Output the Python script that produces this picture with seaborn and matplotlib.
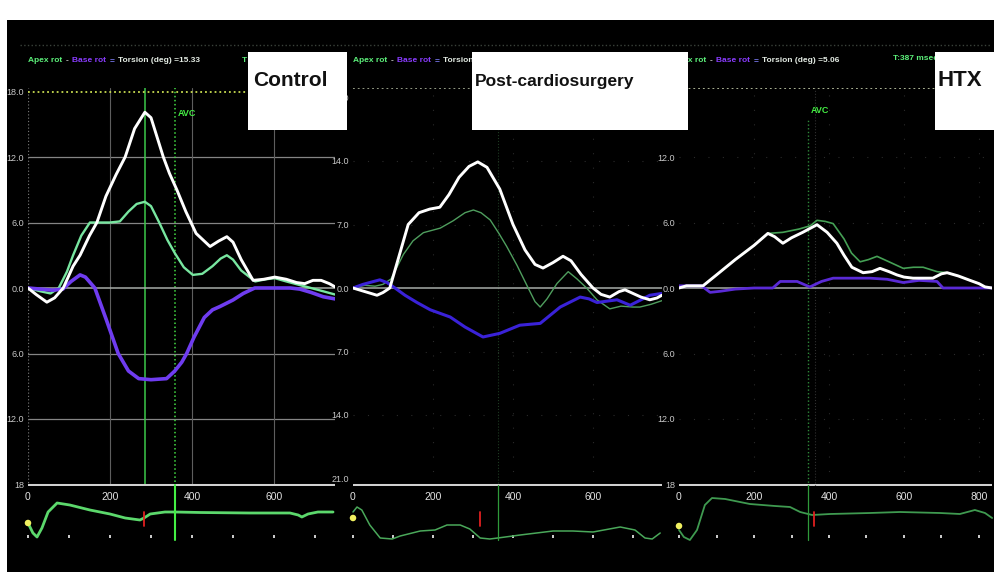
import matplotlib.pyplot as plt
from matplotlib.lines import Line2D
from matplotlib.patches import Rectangle
import seaborn as sns
import numpy as np

sns.set_theme(style="dark", rc={"axes.facecolor": "black", "figure.facecolor": "white"})
FONT = ['Liberation Sans Narrow', 'DejaVu Sans Condensed', 'Liberation Sans', 'DejaVu Sans']
plt.rcParams['font.family'] = FONT

# ---------------- data (time in msec, rotation in deg) ----------------
ctrl_ms = [0, 20, 46, 65, 86, 110, 127, 150, 168, 190, 215, 237, 260, 285, 300, 330, 345, 363,
           385, 410, 444, 465, 485, 500, 520, 549, 575, 602, 630, 655, 675, 695, 715, 735, 749]
ctrl_torsion = [0.0, -0.6, -1.3, -0.9, 0.0, 2.0, 3.0, 4.8, 6.0, 8.4, 10.4, 12.0, 14.6, 16.1, 15.6,
                12.0, 10.5, 9.0, 7.0, 5.0, 3.8, 4.3, 4.7, 4.2, 2.6, 0.7, 0.8, 1.0, 0.8, 0.5, 0.4,
                0.7, 0.7, 0.4, 0.1]
ctrl_apex_ms = [0, 30, 55, 75, 95, 110, 130, 151, 175, 200, 224, 245, 265, 285, 300, 320, 340,
                358, 380, 402, 425, 450, 470, 485, 500, 520, 554, 580, 602, 630, 660, 690, 720, 749]
ctrl_apex = [0.0, -0.3, -0.5, 0.0, 1.5, 3.0, 4.8, 6.0, 6.0, 6.0, 6.1, 7.0, 7.7, 7.9, 7.5, 6.0,
             4.4, 3.2, 1.9, 1.2, 1.3, 2.0, 2.7, 3.0, 2.6, 1.6, 0.6, 0.8, 0.9, 0.6, 0.3, 0.0,
             -0.3, -0.6]
ctrl_base_ms = [0, 30, 60, 85, 105, 127, 140, 163, 190, 220, 245, 270, 300, 338, 358, 375, 387,
                405, 430, 450, 468, 500, 525, 553, 600, 640, 663, 690, 720, 749]
ctrl_base = [0.0, -0.1, -0.2, -0.1, 0.6, 1.2, 1.0, 0.0, -2.8, -6.0, -7.6, -8.3, -8.4, -8.3,
             -7.6, -6.8, -6.0, -4.5, -2.7, -2.0, -1.7, -1.1, -0.5, 0.0, 0.0, 0.0, -0.1, -0.4,
             -0.8, -1.0]

post_ms = [0, 30, 60, 75, 92, 115, 138, 165, 192, 217, 240, 265, 290, 312, 335, 367, 400, 430,
           455, 475, 500, 525, 545, 570, 600, 620, 642, 665, 680, 700, 720, 742, 760, 772]
post_torsion = [0.0, -0.4, -0.8, -0.5, 0.0, 3.5, 7.0, 8.3, 8.7, 8.9, 10.3, 12.2, 13.4, 13.9,
                13.3, 10.9, 7.0, 4.2, 2.6, 2.2, 2.8, 3.5, 3.0, 1.5, 0.0, -0.7, -1.0, -0.4,
                -0.2, -0.6, -1.0, -1.3, -1.1, -0.8]
post_apex_ms = [0, 30, 55, 75, 95, 126, 150, 176, 218, 250, 280, 301, 320, 343, 365, 384, 410,
                438, 455, 468, 485, 510, 538, 560, 584, 610, 642, 670, 700, 717, 745, 772]
post_apex = [0.0, 0.3, 0.2, 0.4, 1.0, 3.7, 5.2, 6.1, 6.6, 7.4, 8.3, 8.6, 8.3, 7.5, 6.0, 4.6,
             2.5, 0.0, -1.5, -2.1, -1.2, 0.5, 1.8, 1.0, 0.0, -1.3, -2.3, -2.0, -2.1, -2.1,
             -1.8, -1.4]
post_base_ms = [0, 25, 50, 67, 85, 105, 130, 160, 193, 243, 280, 325, 367, 417, 468, 518, 568,
                590, 610, 660, 693, 720, 742, 772]
post_base = [0.0, 0.4, 0.7, 0.9, 0.6, 0.0, -0.8, -1.6, -2.4, -3.2, -4.3, -5.4, -5.0, -4.1,
             -3.9, -2.1, -1.0, -1.2, -1.6, -1.3, -1.9, -1.3, -0.8, -0.6]

htx_ms = [0, 20, 64, 100, 150, 200, 237, 255, 277, 300, 330, 368, 395, 421, 440, 461, 491, 515,
          536, 560, 581, 600, 624, 650, 677, 700, 715, 745, 776, 800, 816, 835]
htx_torsion = [0.0, 0.2, 0.2, 1.2, 2.6, 3.9, 5.0, 4.7, 4.1, 4.6, 5.1, 5.8, 5.1, 4.1, 3.0, 1.9,
               1.4, 1.5, 1.8, 1.5, 1.2, 1.0, 0.9, 0.9, 0.9, 1.3, 1.4, 1.1, 0.7, 0.4, 0.1, 0.0]
htx_apex_ms = [0, 20, 64, 100, 150, 200, 237, 277, 320, 350, 368, 390, 411, 440, 460, 483, 505,
               528, 560, 598, 625, 651, 688, 715, 745, 776, 800, 816, 835]
htx_apex = [0.0, 0.2, 0.2, 1.2, 2.6, 3.9, 5.0, 5.1, 5.4, 5.7, 6.2, 6.1, 5.9, 4.5, 3.2, 2.4, 2.6,
            2.9, 2.4, 1.8, 1.9, 1.9, 1.5, 1.4, 1.1, 0.7, 0.4, 0.1, 0.0]
htx_base_ms = [0, 30, 60, 83, 110, 150, 200, 250, 270, 315, 335, 349, 380, 411, 456, 509, 555,
               598, 640, 688, 704, 750, 800, 835]
htx_base = [0.2, 0.2, 0.2, -0.4, -0.3, -0.1, 0.0, 0.0, 0.6, 0.6, 0.3, 0.1, 0.6, 0.9, 0.9, 0.9,
            0.8, 0.5, 0.7, 0.6, 0.0, 0.0, 0.0, 0.0]

# ECG strip (arbitrary amplitude)
ctrl_ecg_ms = [0, 12, 22, 34, 49, 71, 102, 151, 200, 237, 273, 283, 298, 334, 359, 420, 541,
               639, 659, 668, 683, 707, 744]
ctrl_ecg = [0.44, 0.24, 0.16, 0.34, 0.66, 0.84, 0.80, 0.70, 0.62, 0.54, 0.50, 0.54, 0.62, 0.66,
            0.66, 0.65, 0.64, 0.64, 0.60, 0.56, 0.62, 0.66, 0.66]
post_ecg_ms = [0, 10, 22, 42, 68, 98, 118, 168, 205, 235, 268, 292, 318, 342, 362, 418, 500,
               550, 600, 668, 705, 730, 748, 768]
post_ecg = [0.66, 0.76, 0.70, 0.40, 0.14, 0.12, 0.18, 0.28, 0.30, 0.40, 0.40, 0.32, 0.14, 0.12,
            0.14, 0.20, 0.28, 0.28, 0.26, 0.36, 0.30, 0.14, 0.12, 0.24]
htx_ecg_ms = [0, 13, 29, 48, 69, 88, 123, 189, 256, 296, 323, 355, 403, 509, 589, 696, 749, 789,
              816, 835]
htx_ecg = [0.30, 0.16, 0.10, 0.30, 0.80, 0.94, 0.92, 0.82, 0.78, 0.76, 0.66, 0.60, 0.62, 0.64,
           0.66, 0.64, 0.62, 0.70, 0.64, 0.54]

# markers: start dot amplitude, red mark time, AVC time
start_dot = [0.44, 0.54, 0.38]
red_mark_ms = [283, 318, 360]
avc_ms = [358, 362, 344]
cursor_ms = 285

titles = ["Control", "Post-cardiosurgery", "HTX"]
ytick_vals = [[18, 12, 6, 0, -6, -12, -18], [21, 14, 7, 0, -7, -14, -21], [18, 12, 6, 0, -6, -12, -18]]
ytick_text = [["18.0", "12.0", "6.0", "0.0", "6.0", "12.0", "18"],
              ["21.0", "14.0", "7.0", "0.0", "7.0", "14.0", "21.0"],
              ["18.0", "12.0", "6.0", "0.0", "6.0", "12.0", "18"]]
xtick_vals = [[0, 200, 400, 600], [0, 200, 400, 600], [0, 200, 400, 600, 800]]
torsion_text = ["Torsion (deg) =15.33", "Torsion (deg)", "Torsion (deg) =5.06"]

# ---------------- drawing ----------------
W, H = 995, 572
fig = plt.figure(figsize=(W / 100, H / 100), dpi=100)
renderer = fig.canvas.get_renderer()


def to_fig(x0, y0, x1, y1):
    return [x0 / W, 1 - y1 / H, (x1 - x0) / W, (y1 - y0) / H]


def ftext(x, y, s, **kw):
    return fig.text(x / W, 1 - y / H, s, **kw)


fig.add_artist(Rectangle((7 / W, 0), 1 - 7 / W, 1 - 20 / H, transform=fig.transFigure,
                         facecolor='black', edgecolor='none', zorder=-5))
fig.add_artist(Line2D([20 / W, 990 / W], [1 - 45 / H] * 2, transform=fig.transFigure,
                      color='#3a423a', lw=1, ls=':', zorder=-4))

layout = [
    dict(x0=28, x1=335, pxms=0.41, pxu=65.5 / 6),
    dict(x0=353, x1=662, pxms=0.40, pxu=63.5 / 7),
    dict(x0=679, x1=992, pxms=0.375, pxu=65.5 / 6),
]
series = [
    (ctrl_ms, ctrl_torsion, ctrl_apex_ms, ctrl_apex, ctrl_base_ms, ctrl_base, ctrl_ecg_ms, ctrl_ecg),
    (post_ms, post_torsion, post_apex_ms, post_apex, post_base_ms, post_base, post_ecg_ms, post_ecg),
    (htx_ms, htx_torsion, htx_apex_ms, htx_apex, htx_base_ms, htx_base, htx_ecg_ms, htx_ecg),
]
apex_style = [('#78e6a0', 1.7), ('#4f9e5e', 1.0), ('#45a055', 1.2)]
base_style = [('#6f3cf0', 2.6), ('#3a22d8', 2.2), ('#5a2ad6', 2.0)]
ecg_style = [('#5cd86c', 2.0), ('#4aa85a', 1.1), ('#3f9a50', 1.3)]
top_line = ['#c8dc50', '#a0a890', '#b8c0a0']

for i, (lay, ser) in enumerate(zip(layout, series)):
    t_ms, tors, a_ms, apex, b_ms, base, e_ms, ecg = ser
    x0, x1, pxms, pxu = lay['x0'], lay['x1'], lay['pxms'], lay['pxu']
    xmax = (x1 - x0) / pxms
    ax = fig.add_axes(to_fig(x0, 88, x1, 486))
    ax.set_facecolor('none')
    ax.set_xlim(0, xmax)
    ax.set_ylim(-(486 - 288) / pxu, (288 - 88) / pxu)
    for sp in ax.spines.values():
        sp.set_visible(False)
    ax.grid(False)

    top = ytick_vals[i][0]
    if i == 0:
        for yv in [12, 6, -6, -12]:
            ax.axhline(yv, color='#858585', lw=0.9, zorder=1)
        for xv in [200, 400, 600]:
            ax.axvline(xv, color='#5e5e5e', lw=0.8, zorder=1)
        ax.axvline(0, color='#707070', lw=0.9, ls=':', zorder=1)
        ax.axvline(cursor_ms, color='#3cc84a', lw=1.1, zorder=1)
        ax.axvline(avc_ms[i], color='#44dd44', lw=1.1, ls=':', zorder=1)
        ax.text(avc_ms[i] + 8, 16.0, 'AVC', color='#44ee44', fontsize=6.5, fontweight='bold', va='center')
        ax.axhline(top, color=top_line[i], lw=1.3, ls=':', zorder=1)
        ax.axhline(-18, color='#d0d0d0', lw=2.2, zorder=1)
    else:
        for yv in ytick_vals[i][1:3] + ytick_vals[i][4:6]:
            ax.axhline(yv, color='#2a2a2a', lw=0.8, ls=(0, (1, 12)), zorder=1)
        for xv in [200, 400, 600, 800]:
            ax.axvline(xv, color='#2a2a2a', lw=0.8, ls=(0, (1, 12)), zorder=1)
        ax.axhline(ax.get_ylim()[1], color=top_line[i], lw=1.3, ls=':', zorder=1)
        ax.axhline(ax.get_ylim()[0] + 0.1, color='#d0d0d0', lw=2.2, zorder=1)
        if i == 1:
            ax.axvline(avc_ms[i], color='#1e3a22', lw=0.8, ls=':', zorder=1)
        else:
            ax.axvline(avc_ms[i], ymax=0.92, color='#2f8a3a', lw=1.0, ls=':', zorder=1)
            ax.axvline(avc_ms[i] + 18, color='#303030', lw=0.8, ls=':', zorder=1)
            ax.text(avc_ms[i] + 8, 16.3, 'AVC', color='#44ee44', fontsize=6.5, fontweight='bold', va='center')
    ax.axhline(0, color='#a6aca8', lw=1.1, zorder=1)

    sns.lineplot(x=a_ms, y=apex, ax=ax, color=apex_style[i][0], lw=apex_style[i][1],
                 sort=False, estimator=None, zorder=3)
    sns.lineplot(x=b_ms, y=base, ax=ax, color=base_style[i][0], lw=base_style[i][1],
                 sort=False, estimator=None, zorder=3)
    sns.lineplot(x=t_ms, y=tors, ax=ax, color='white', lw=2.1,
                 sort=False, estimator=None, zorder=4)
    ax.set_xlabel('')
    ax.set_ylabel('')

    ax.set_yticks(ytick_vals[i])
    ax.set_yticklabels(ytick_text[i], color='#c8c8c8', fontsize=6.5)
    ax.set_xticks(xtick_vals[i])
    ax.set_xticklabels([str(v) for v in xtick_vals[i]], color='#e2e2e2', fontsize=7.5)
    ax.tick_params(axis='y', length=0, pad=3)
    ax.tick_params(axis='x', length=0, pad=4)

    # ECG strip
    sx = fig.add_axes(to_fig(x0, 490, x1, 538))
    sx.set_facecolor('none')
    sx.set_xlim(0, xmax)
    sx.set_ylim(0.14, 1.1)
    for sp in sx.spines.values():
        sp.set_visible(False)
    sx.grid(False)
    sns.lineplot(x=e_ms, y=ecg, ax=sx, color=ecg_style[i][0], lw=ecg_style[i][1],
                 sort=False, estimator=None, clip_on=False)
    sns.scatterplot(x=[0], y=[start_dot[i]], ax=sx, color='#f0f060', s=22, edgecolor='none',
                    clip_on=False, zorder=5)
    sx.axvline(red_mark_ms[i], ymin=0.25, ymax=0.55, color='#e02020', lw=1.3)
    if i == 0:
        sx.axvline(avc_ms[i], ymin=-0.05, ymax=1.1, color='#44ee44', lw=1.5, clip_on=False)
    else:
        sx.axvline(avc_ms[i], ymin=-0.05, ymax=1.1, color='#2f9a3a', lw=0.9, clip_on=False)
    sx.set_xticks(np.arange(0, xmax, 100))
    sx.set_yticks([])
    sx.tick_params(axis='x', bottom=True, direction='in', length=2.5, width=1.4,
                   color='#cfcfcf', labelbottom=False)
    sx.set_xlabel('')
    sx.set_ylabel('')

# header texts, chained one after another
GREEN = '#5cf07a'
PURPLE = '#8a3cff'
hdr_x = [28, 353, 672]
for i, xs in enumerate(hdr_x):
    pieces = [('Apex rot', GREEN), ('-', '#cccccc'), ('Base rot', PURPLE), ('=', '#8080ff'),
              (torsion_text[i], '#e4ece4')]
    x = xs
    for s, c in pieces:
        t = ftext(x, 61, s, color=c, fontsize=6, fontweight='bold', va='center')
        bb = t.get_window_extent(renderer)
        x = bb.x1 + 3.5
ftext(242, 61, 'T', color=GREEN, fontsize=6, fontweight='bold', va='center')
ftext(893, 58, 'T:387 msec', color=GREEN, fontsize=6, fontweight='bold', va='center')

# white title boxes
boxes = [(248, 347), (472, 688), (935, 995)]
title_x = [253, 475, 938]
title_size = [15, 12.5, 16]
for (bx0, bx1), tx, ts, title in zip(boxes, title_x, title_size, titles):
    fig.add_artist(Rectangle((bx0 / W, 1 - 130 / H), (bx1 - bx0) / W, 78 / H,
                             transform=fig.transFigure, facecolor='white', edgecolor='none',
                             zorder=8))
    ftext(tx, 86, title, color='#111111', fontsize=ts, fontweight='bold', va='baseline',
          zorder=9)

fig.savefig('out.png', dpi=100, facecolor='white')
